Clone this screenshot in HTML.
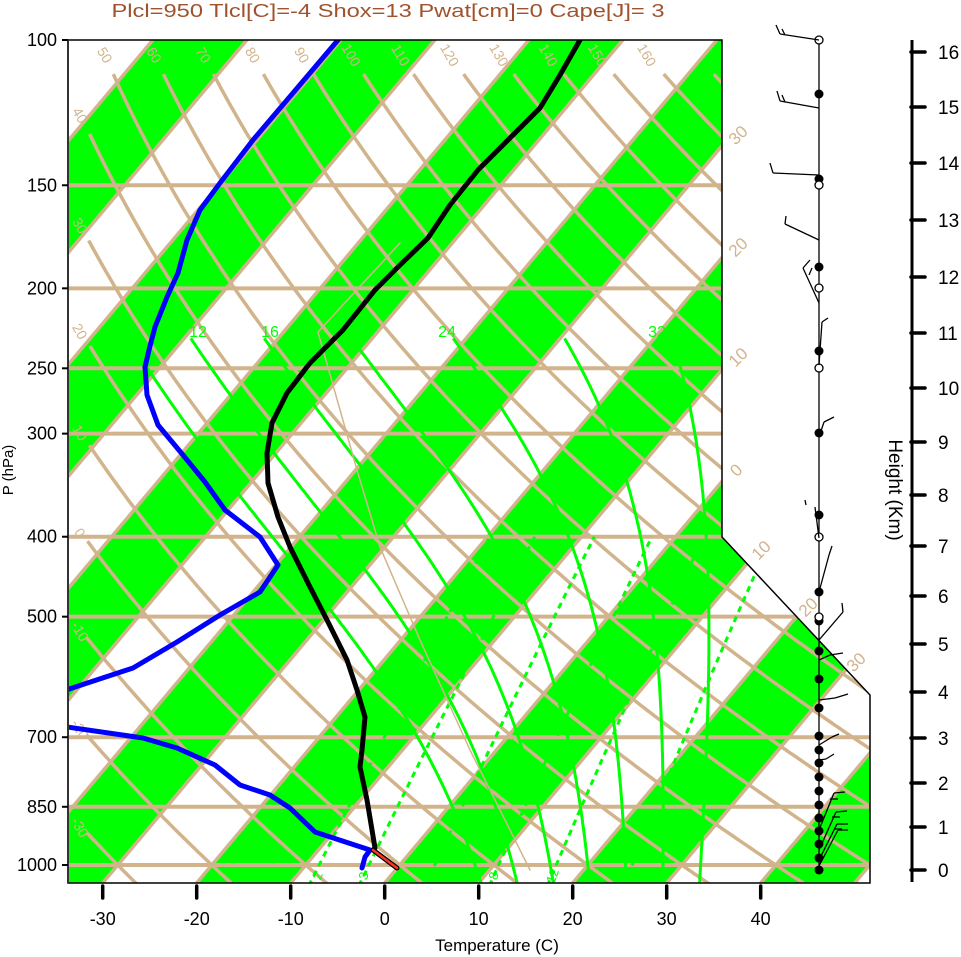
<!DOCTYPE html>
<html><head><meta charset="utf-8"><style>
html,body{margin:0;padding:0;background:#fff;}
svg{display:block;font-family:"Liberation Sans",sans-serif;}
</style></head><body>
<svg id="s" width="961" height="957" xmlns="http://www.w3.org/2000/svg">
<defs><clipPath id="c"><polygon points="68,40 722,40 722,537 870,695 870,883 68,883"/></clipPath></defs>
<g id="bands" clip-path="url(#c)"></g>
<g id="grid" clip-path="url(#c)" fill="none"></g>
<g id="lbl"></g>
<g clip-path="url(#c)" fill="none" stroke-linejoin="round" stroke-linecap="round">
<polyline stroke="#d2b48c" stroke-width="1.5" points="400,243 318,332 357,470 380,547 420,640 470,750 530,870"/>
<polyline stroke="#0000ff" stroke-width="5" points="338,40 293,93 253,140 220,183 200,210 187,240 178,273 167,297 155,327 149,350 145,367 147,395 158,425 183,455 205,482 225,510 260,537 278,565 260,592 220,615 177,642 133,668 60,692"/>
<polyline stroke="#0000ff" stroke-width="5" points="60,726 143,738 177,748 215,765 240,785 270,795 290,808 315,832 370,850 365,857 362,868"/>
<polyline stroke="#000" stroke-width="5" points="580,40 560,75 540,108 510,138 478,170 450,205 428,238 400,265 375,290 355,315 343,330 310,363 287,393 272,423 267,453 268,483 278,517 290,547 310,587 327,620 347,660 357,690 365,717 362,750 360,767 367,800 372,830 375,848 373,850"/>
<line x1="373" y1="850" x2="397" y2="868" stroke="#000" stroke-width="5"/>
<line x1="373" y1="850" x2="397" y2="868" stroke="#ff3322" stroke-width="2.5"/>
</g>
<polygon points="68,40 722,40 722,537 870,695 870,883 68,883" fill="none" stroke="#000" stroke-width="1.5"/>
<line x1="68" y1="40" x2="68" y2="883" stroke="#333" stroke-width="2"/>
<g id="axes"></g>
<text x="388" y="17" text-anchor="middle" font-size="18" fill="#a0522d" textLength="553" lengthAdjust="spacingAndGlyphs">Plcl=950 Tlcl[C]=-4 Shox=13 Pwat[cm]=0 Cape[J]= 3</text>
<text x="497" y="951" text-anchor="middle" font-size="17" fill="#000">Temperature (C)</text>
<text transform="translate(13,470) rotate(-90)" text-anchor="middle" font-size="15" fill="#000">P (hPa)</text>
<text transform="translate(889,490) rotate(90)" text-anchor="middle" font-size="19" fill="#000">Height (Km)</text>
<g id="wind" stroke="#000" fill="none" stroke-width="1.3"></g>
</svg>
<script>
var NS="http://www.w3.org/2000/svg";
function el(par,tag,at,txt){var e=document.createElementNS(NS,tag);for(var k in at)e.setAttribute(k,at[k]);if(txt!=null)e.textContent=txt;document.getElementById(par).appendChild(e);return e;}
function Y(p){return 40+358.3*Math.log(p/100);}
function X(T,y){return 384.7+9.4*T+0.84*(883-y);}
var TAN="#d2b48c",GR="#00ff00";
for(var T=-160;T<=80;T+=20){
  var pts=[[X(T,20),20],[X(T+10,20),20],[X(T+10,900),900],[X(T,900),900]];
  el("bands","polygon",{points:pts.map(function(a){return a.join(",")}).join(" "),fill:GR});
}
for(var T=-160;T<=80;T+=10){
  el("grid","line",{x1:X(T,20),y1:20,x2:X(T,900),y2:900,stroke:TAN,"stroke-width":3.5});
}
for(var th=-40;th<=180;th+=10){
  var pts=[];
  for(var p=1070;p>=95;p-=5){
    var y=Y(p);var Tc=(th+273.15)*Math.pow(p/1000,0.2857)-273.15;var x=X(Tc,y);
    if(y>=73&&x>=86)pts.push(x.toFixed(1)+","+y.toFixed(1));
  }
  if(pts.length>1)el("grid","polyline",{points:pts.join(" "),stroke:TAN,"stroke-width":3.5});
  var y0=55,p0=100*Math.exp((y0-40)/358.3);var x0=X((th+273.15)*Math.pow(p0/1000,0.2857)-273.15,y0);
  if(x0>=90&&x0<=660){el("lbl","text",{transform:"translate("+x0.toFixed(1)+","+y0+") rotate(60)","text-anchor":"middle","font-size":"14",fill:TAN,dy:"5"},String(th));}
  else if(x0<90){
    for(var p=100;p<=1050;p+=1){var y=Y(p);var x=X((th+273.15)*Math.pow(p/1000,0.2857)-273.15,y);if(x>=78){ if(y<860) el("lbl","text",{transform:"translate(80,"+(y+4).toFixed(1)+") rotate(60)","text-anchor":"middle","font-size":"14",fill:TAN,dy:"5"},String(th));break;}}
  }
}
[150,200,250,300,400,500,700,850,1000].forEach(function(p){var y=Y(p);el("grid","line",{x1:60,y1:y,x2:880,y2:y,stroke:TAN,"stroke-width":4});});
function es(Tc){return 6.112*Math.exp(17.67*Tc/(Tc+243.5));}
function dTdp(T,p){var Tc=T-273.15;var e=es(Tc);var rs=0.622*e/(p-e);var Lv=2.5e6,Rd=287,cp=1005;return (Rd*T+Lv*rs)/(p*(cp+Lv*Lv*rs*0.622/(Rd*T*T)));}
[8,12,16,20,24,28,32].forEach(function(tw){
  var up=[],T=tw+273.15,p=1000;
  while(p>=230){up.push(X(T-273.15,Y(p)).toFixed(1)+","+Y(p).toFixed(1));var d=-5;T+=dTdp(T,p)*d;p+=d;}
  var dn=[];T=tw+273.15;p=1000;
  while(p<=1060){var d=5;T+=dTdp(T,p)*d;p+=d;dn.push(X(T-273.15,Y(p)).toFixed(1)+","+Y(p).toFixed(1));}
  el("grid","polyline",{points:dn.reverse().concat(up).join(" "),stroke:GR,"stroke-width":3});
});
[2,3,5,8,12,20].forEach(function(w){
  var pts=[];for(var p=1060;p>=400;p-=10){var e=w/1000*p/(0.622+w/1000);var l=Math.log(e/6.112);var Td=243.5*l/(17.67-l);pts.push(X(Td,Y(p)).toFixed(1)+","+Y(p).toFixed(1));}
  el("grid","polyline",{points:pts.join(" "),stroke:GR,"stroke-width":3,"stroke-dasharray":"6,5"});
});
[["12",198,337],["16",270,337],["24",447,337],["32",657,337]].forEach(function(a){el("lbl","text",{x:a[1],y:a[2],"text-anchor":"middle","font-size":"16",fill:GR},a[0]);});
[["2",318,876],["3",364,876],["8",494,876],["12",553,876]].forEach(function(a){el("lbl","text",{transform:"translate("+a[1]+","+a[2]+") rotate(-70)","text-anchor":"middle","font-size":"13",fill:GR,dy:"4"},a[0]);});
[["30",738,135],["20",738,247],["10",738,357],["0",736,470],["10",761,550],["20",808,607],["30",856,662]].forEach(function(a){el("lbl","text",{transform:"translate("+a[1]+","+a[2]+") rotate(-45)","text-anchor":"middle","font-size":"17",fill:TAN,dy:"6"},a[0]);});
[100,150,200,250,300,400,500,700,850,1000].forEach(function(p){var y=Y(p);el("axes","text",{x:57,y:(y+6).toFixed(1),"text-anchor":"end","font-size":"18",fill:"#000"},String(p));el("axes","line",{x1:62,y1:y,x2:68,y2:y,stroke:"#000","stroke-width":2});});
for(var T=-30;T<=40;T+=10){var x=X(T,883);el("axes","line",{x1:x,y1:886,x2:x,y2:898,stroke:"#000","stroke-width":3.5,"stroke-linecap":"round"});el("axes","text",{x:x,y:925,"text-anchor":"middle","font-size":"18",fill:"#000"},String(T));}
el("axes","line",{x1:912,y1:40,x2:912,y2:882,stroke:"#000","stroke-width":3});
[870,827,783,738,692,644,596,546,495,442,388,333,277,220,163,107,52].forEach(function(y,i){el("axes","line",{x1:911,y1:y,x2:925,y2:y,stroke:"#000","stroke-width":3.5,"stroke-linecap":"round"});el("axes","text",{x:938,y:y+7,"font-size":"19",fill:"#000"},String(i));});
el("wind","line",{x1:819,y1:40,x2:819,y2:870});
[94,179,267,351,433,515,592,621,651,679,708,736,750,763,777,791,805,818,831,844,858,870].forEach(function(y){el("wind","circle",{cx:819,cy:y,r:4.5,fill:"#000",stroke:"none"});});
[40,185,288,368,537,617].forEach(function(y){el("wind","circle",{cx:819,cy:y,r:4,fill:"#fff"});});
var barbs=[[40,780,34,[[780,34,776,25],[785,35,782,29]]],[108,780,101,[[780,101,777,91],[785,102,782,95]]],[175,773,173,[[773,173,770,163]]],[240,785,224,[[785,224,786,216]]],[303,803,268,[[803,268,810,260],[809,275,812,268]]],[365,822,322,[[822,322,828,318]]],[437,824,422,[[824,422,834,417]]],[538,815,507,[[805,500,806,505]]],[592,829,555,[[829,555,832,546]]],[640,843,612,[[843,612,842,603]]],[660,830,655,[[830,655,843,653]]],[700,835,698,[[835,698,848,694]]],[745,832,737,[[832,737,839,734]]],[760,826,759,[[826,759,834,754]]],[830,834,793,[[834,793,845,792],[830,799,838,799]]],[850,836,812,[[836,812,847,811],[832,817,840,817]]],[860,837,824,[[837,824,848,824],[834,829,842,829]]],[866,838,830,[[838,830,848,830]]]];
barbs.forEach(function(b){el("wind","line",{x1:819,y1:b[0],x2:b[1],y2:b[2]});b[3].forEach(function(t){el("wind","line",{x1:t[0],y1:t[1],x2:t[2],y2:t[3]});});});
</script>
</body></html>
